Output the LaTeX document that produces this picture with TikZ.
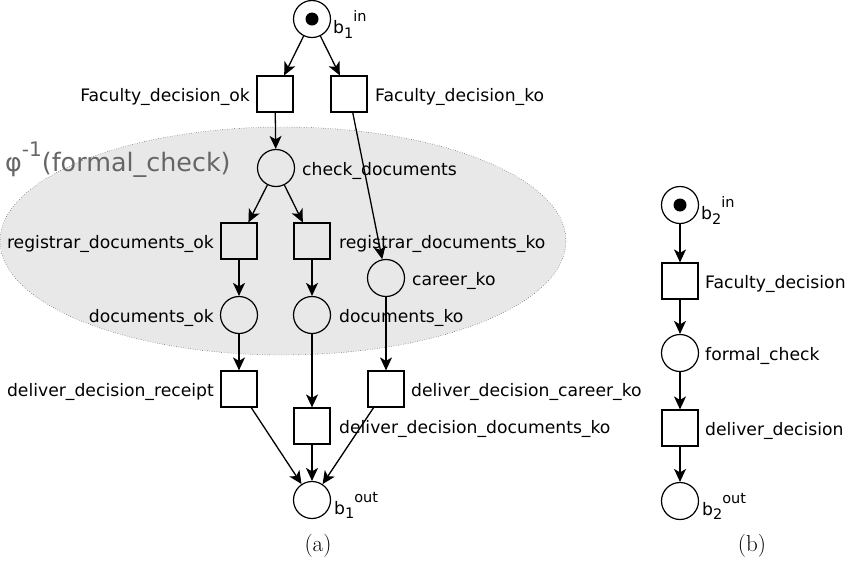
\documentclass[tikz,border=0pt]{standalone}
\usepackage{fontspec}
\newfontfamily\netfont{DejaVu Sans}
\usetikzlibrary{arrows.meta,shapes.geometric}

% place name with subscript index and raised tag, e.g. b_1^in
\newcommand\placename[2]{b\raisebox{-0.5ex}{\fontsize{14.5}{15}\selectfont #1}\raisebox{1.25ex}{\fontsize{14.5}{15}\selectfont #2}}

\begin{document}
\begin{tikzpicture}[x=1pt,y=-1pt,
  place/.style={circle,draw,line width=1.2pt,minimum size=37pt,inner sep=0pt},
  trans/.style={rectangle,draw,line width=1.2pt,minimum size=36pt,inner sep=0pt},
  token/.style={circle,fill=black,minimum size=13pt,inner sep=0pt},
  lbl/.style={font=\netfont\fontsize{17.2}{19}\selectfont,inner sep=0pt,yshift=-2.5pt},
  arc/.style={-{Stealth[length=13pt,width=12pt,inset=3.5pt]},line width=1.3pt},
  caption/.style={font=\fontsize{23}{26}\selectfont}]
\useasboundingbox (0,0) rectangle (851,566);

% region of the refined place
\node[ellipse,draw,dotted,fill=black!9,minimum width=566pt,minimum height=228pt,inner sep=0pt] (region) at (283,241) {};
\node[anchor=west,text=black!60,font=\netfont\fontsize{25.4}{28}\selectfont,inner sep=0pt] (phi) at (5,160) {φ\raisebox{1.1ex}{\fontsize{20}{20}\selectfont -1}(formal\_check)};

% net (a)
\node[place] (b1in) at (312,19) {};
\node[token] (tok1) at (b1in) {};
\node[lbl,anchor=west] (b1inl) at (333,22) {\placename{1}{in}};

\node[trans] (fdok) at (275,94) {};
\node[lbl,anchor=east] (fdokl) at (250,94) {Faculty\_decision\_ok};
\node[trans] (fdko) at (349,94) {};
\node[lbl,anchor=west] (fdkol) at (375,94) {Faculty\_decision\_ko};

\node[place] (chk) at (276,168) {};
\node[lbl,anchor=west] (chkl) at (302,168) {check\_documents};

\node[trans] (rdok) at (239,241) {};
\node[lbl,anchor=east] (rdokl) at (214,241) {registrar\_documents\_ok};
\node[trans] (rdko) at (312,241) {};
\node[lbl,anchor=west] (rdkol) at (339,241) {registrar\_documents\_ko};

\node[place] (cko) at (386,278) {};
\node[lbl,anchor=west] (ckol) at (412,278) {career\_ko};

\node[place] (dok) at (239,315) {};
\node[lbl,anchor=east] (dokl) at (214,315) {documents\_ok};
\node[place] (dko) at (312,315) {};
\node[lbl,anchor=west] (dkol) at (339,315) {documents\_ko};

\node[trans] (ddr) at (239,389) {};
\node[lbl,anchor=east] (ddrl) at (214,389) {deliver\_decision\_receipt};
\node[trans] (ddc) at (386,389) {};
\node[lbl,anchor=west] (ddcl) at (411,389) {deliver\_decision\_career\_ko};
\node[trans] (ddd) at (312,426) {};
\node[lbl,anchor=west] (dddl) at (339,426) {deliver\_decision\_documents\_ko};

\node[place] (b1out) at (312,500) {};
\node[lbl,anchor=west] (b1outl) at (334,503) {\placename{1}{out}};

\draw[arc] (b1in) -- (fdok);
\draw[arc] (b1in) -- (fdko);
\draw[arc] (fdok) -- (chk);
\draw[arc] (fdko) -- (cko);
\draw[arc] (chk) -- (rdok);
\draw[arc] (chk) -- (rdko);
\draw[arc] (rdok) -- (dok);
\draw[arc] (rdko) -- (dko);
\draw[arc] (dok) -- (ddr);
\draw[arc] (dko) -- (ddd);
\draw[arc] (cko) -- (ddc);
\draw[arc] (ddr) -- (b1out);
\draw[arc] (ddd) -- (b1out);
\draw[arc] (ddc) -- (b1out);

\node[caption] (capa) at (318,546) {(a)};

% net (b)
\node[place] (b2in) at (680,205) {};
\node[token] (tok2) at (b2in) {};
\node[lbl,anchor=west] (b2inl) at (701,208) {\placename{2}{in}};
\node[trans] (fd) at (680,281) {};
\node[lbl,anchor=west] (fdl) at (705,281) {Faculty\_decision};
\node[place] (fc) at (680,353) {};
\node[lbl,anchor=west] (fcl) at (705,353) {formal\_check};
\node[trans] (dd) at (680,428) {};
\node[lbl,anchor=west] (ddl) at (705,428) {deliver\_decision};
\node[place] (b2out) at (680,501) {};
\node[lbl,anchor=west] (b2outl) at (702,504) {\placename{2}{out}};

\draw[arc] (b2in) -- (fd);
\draw[arc] (fd) -- (fc);
\draw[arc] (fc) -- (dd);
\draw[arc] (dd) -- (b2out);

\node[caption] (capb) at (752,546) {(b)};
\end{tikzpicture}
\end{document}
